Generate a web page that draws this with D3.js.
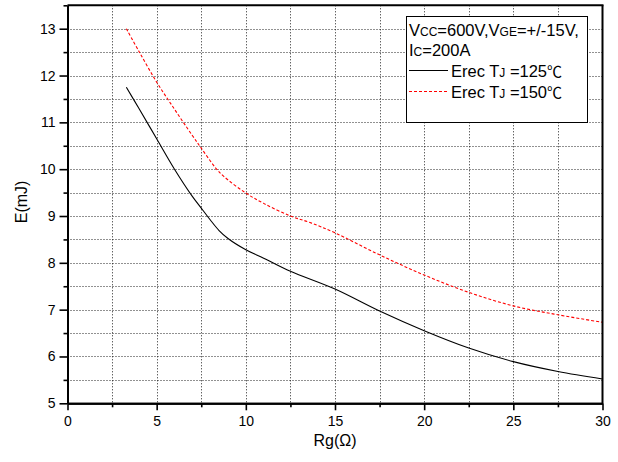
<!DOCTYPE html>
<html>
<head>
<meta charset="utf-8">
<script src="https://cdn.jsdelivr.net/npm/d3@7/dist/d3.min.js"></script>
<style>
  html, body { margin: 0; padding: 0; background: #fff; }
  svg { display: block; font-family: "Liberation Sans", Arial, sans-serif; }
</style>
</head>
<body>
<svg id="chart" width="618" height="462"></svg>
<script>
// Gate resistance (Ohm) and reverse-recovery energy (mJ)
const rg125 = [3.3, 4, 5, 6, 7, 7.5, 8, 8.5, 9, 10, 11, 12.5, 15, 17.5, 20, 22.5, 25, 27.5, 30];
const erec125 = [11.75, 11.3, 10.65, 10.0, 9.42, 9.17, 8.92, 8.69, 8.52, 8.28, 8.1, 7.82, 7.44, 6.97, 6.55, 6.18, 5.89, 5.68, 5.52];

const rg150 = [3.3, 4, 5, 6, 7, 7.5, 8.3, 8.75, 10, 11, 12.5, 13.6, 15, 17.5, 20, 22.5, 25, 27.5, 30];
const erec150 = [13.0, 12.52, 11.86, 11.28, 10.72, 10.45, 10.03, 9.85, 9.49, 9.27, 9.0, 8.86, 8.64, 8.17, 7.74, 7.37, 7.08, 6.89, 6.73];

const xMajorTicks = [0, 5, 10, 15, 20, 25, 30];
const xMinorTicks = [2.5, 7.5, 12.5, 17.5, 22.5, 27.5];
const yMajorTicks = [5, 6, 7, 8, 9, 10, 11, 12, 13];
const yMinorTicks = [5.5, 6.5, 7.5, 8.5, 9.5, 10.5, 11.5, 12.5, 13.5];

const svg = d3.select("#chart");
const plotLeft = 67.5, plotRight = 602.5, plotTop = 5.3, plotBottom = 403.3;

const x = d3.scaleLinear().domain([0, 30]).range([plotLeft, plotRight]);
const y = d3.scaleLinear().domain([5, 13.5]).range([plotBottom, plotTop]);

// dotted grid
const grid = svg.append("g");
grid.selectAll("line.gx").data(xMinorTicks.concat(xMajorTicks.slice(1, -1)))
  .join("line")
  .attr("x1", d => Math.round(x(d)) + 0.5).attr("x2", d => Math.round(x(d)) + 0.5)
  .attr("y1", plotTop).attr("y2", plotBottom)
  .attr("stroke", "#222").attr("stroke-width", 1).attr("stroke-dasharray", "1,2");
grid.selectAll("line.gy").data(yMinorTicks.slice(0, -1).concat(yMajorTicks.slice(1)))
  .join("line")
  .attr("x1", plotLeft).attr("x2", plotRight)
  .attr("y1", d => Math.round(y(d)) + 0.5).attr("y2", d => Math.round(y(d)) + 0.5)
  .attr("stroke", "#222").attr("stroke-width", 1).attr("stroke-dasharray", "1,2");

// curves
const line = d3.line().x(d => x(d[0])).y(d => y(d[1])).curve(d3.curveCatmullRom.alpha(0.5));
svg.append("path")
  .datum(rg125.map((r, i) => [r, erec125[i]]))
  .attr("d", line).attr("fill", "none").attr("stroke", "#000").attr("stroke-width", 1.1);
svg.append("path")
  .datum(rg150.map((r, i) => [r, erec150[i]]))
  .attr("d", line).attr("fill", "none").attr("stroke", "#ff0000").attr("stroke-width", 1.1)
  .attr("stroke-dasharray", "3,2");

// axes
svg.append("g").attr("transform", `translate(0,${plotBottom})`)
  .call(d3.axisBottom(x).tickValues(xMajorTicks).tickSize(7).tickSizeOuter(0).tickPadding(6));
svg.append("g").attr("transform", `translate(0,${plotBottom})`)
  .call(d3.axisBottom(x).tickValues(xMinorTicks).tickSize(4).tickSizeOuter(0).tickFormat(""));
svg.append("g").attr("transform", `translate(${plotLeft},0)`)
  .call(d3.axisLeft(y).tickValues(yMajorTicks).tickSize(8).tickSizeOuter(0).tickPadding(4));
svg.append("g").attr("transform", `translate(${plotLeft},0)`)
  .call(d3.axisLeft(y).tickValues(yMinorTicks).tickSize(4).tickSizeOuter(0).tickFormat(""));

svg.selectAll(".domain").attr("stroke", "#000").attr("stroke-width", 2);
svg.selectAll(".tick line").attr("stroke", "#000").attr("stroke-width", 1.6);
svg.selectAll(".tick text").attr("font-size", 14).attr("fill", "#000")
  .attr("font-family", "Liberation Sans, Arial, sans-serif");

// frame top and right
svg.append("line").attr("x1", plotLeft).attr("x2", plotRight + 1).attr("y1", plotTop).attr("y2", plotTop)
  .attr("stroke", "#000").attr("stroke-width", 2);
svg.append("line").attr("x1", plotRight).attr("x2", plotRight).attr("y1", plotTop).attr("y2", plotBottom)
  .attr("stroke", "#000").attr("stroke-width", 2);

// axis titles
svg.append("text").attr("x", x(15)).attr("y", 446).attr("text-anchor", "middle")
  .attr("font-size", 16).text("Rg(Ω)");
svg.append("text").attr("transform", `translate(27,${y(9.3)}) rotate(-90)`)
  .attr("text-anchor", "middle").attr("font-size", 16).text("E(mJ)");

// legend
const lg = svg.append("g");
lg.append("rect").attr("x", 406.5).attr("y", 16.5).attr("width", 181).attr("height", 106)
  .attr("fill", "#fff").attr("stroke", "#000").attr("stroke-width", 1);

const t1 = lg.append("text").attr("x", 409).attr("y", 36).attr("font-size", 16.5);
t1.append("tspan").text("V");
t1.append("tspan").attr("font-size", 12).text("CC");
t1.append("tspan").text("=600V,V");
t1.append("tspan").attr("font-size", 12).text("GE");
t1.append("tspan").text("=+/-15V,");

const t2 = lg.append("text").attr("x", 409).attr("y", 56).attr("font-size", 16.5);
t2.append("tspan").text("I");
t2.append("tspan").attr("font-size", 12).text("C");
t2.append("tspan").text("=200A");

const legendItems = [
  { label: "=125", color: "#000", dash: null, yy: 77 },
  { label: "=150", color: "#ff0000", dash: "3,2", yy: 98 }
];
legendItems.forEach(it => {
  lg.append("line").attr("x1", 409).attr("x2", 448).attr("y1", it.yy - 6.5).attr("y2", it.yy - 6.5)
    .attr("stroke", it.color).attr("stroke-width", 1.1).attr("stroke-dasharray", it.dash);
  const t = lg.append("text").attr("x", 451).attr("y", it.yy).attr("font-size", 16.5);
  t.append("tspan").text("Erec T");
  t.append("tspan").attr("font-size", 12).text("J");
  t.append("tspan").text(" " + it.label);
  t.append("tspan").attr("font-family", "Noto Sans CJK SC").attr("font-size", 15).text("℃");
});
</script>
</body>
</html>
